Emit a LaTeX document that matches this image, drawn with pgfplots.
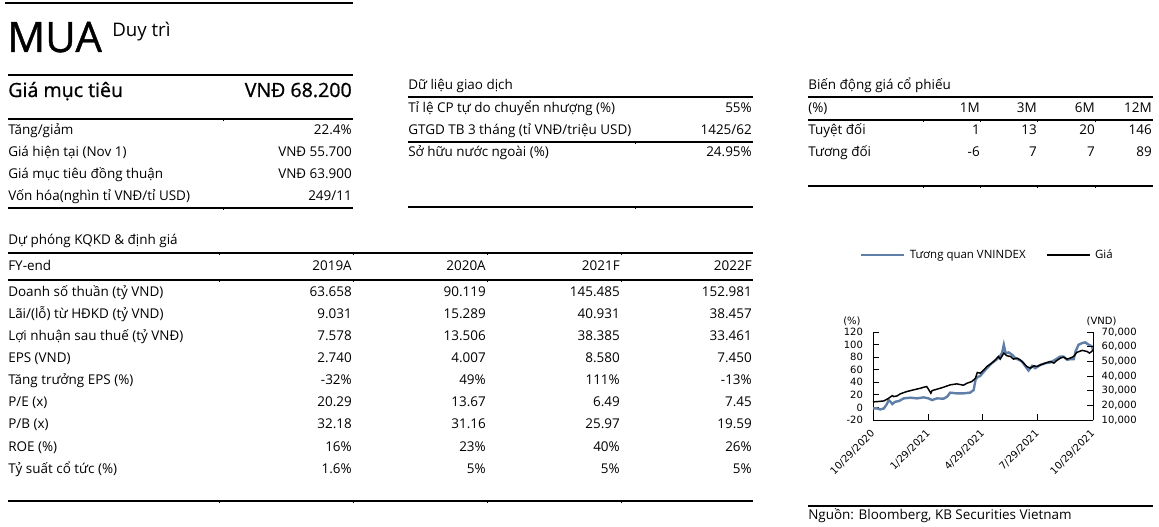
\documentclass[border=0pt]{standalone}
\usepackage{pgfplots}
\pgfplotsset{compat=1.18}
\usepackage{fontspec}
\setmainfont{Open Sans}
\newfontfamily\semib{Open Sans}[FakeBold=0.9]
\newfontfamily\dejavu{DejaVu Sans}
\definecolor{vnblue}{RGB}{95,127,168}
\newcommand\rf{\fontsize{10.1}{12}\selectfont}
\begin{document}
\begin{tikzpicture}
\begin{scope}[x=0.75pt,y=-0.75pt]
\useasboundingbox (0,0) rectangle (1159,527);
\fill[white] (0,0) rectangle (1159,527);
\begin{scope}[line width=0.9pt]
\draw (5,3)--(353,3);
\draw (8,75)--(353,75);
\draw (8,119)--(353,119); \draw[line width=0.5pt] (223,119)--(223,121);
\draw (8,208)--(353,208); \draw[line width=0.5pt] (223,208)--(223,210);
\draw (408,97)--(753,97);
\draw (408,142)--(753,142); \draw[line width=0.5pt] (635,142)--(635,144);
\draw (408,207)--(753,207); \draw[line width=0.5pt] (635,207)--(635,209);
\draw (808,97)--(1153,97);
\draw (808,120)--(1153,120);
\draw (808,186)--(1153,186);
\foreach \t in {923,980,1037,1095} {\draw[line width=0.5pt] (\t,120)--(\t,122); \draw[line width=0.5pt] (\t,186)--(\t,188);}
\draw (8,253)--(753,253);
\draw (8,280)--(753,280);
\draw (8,501)--(753,501);
\foreach \t in {219,353,487,621} {\draw[line width=0.5pt] (\t,253)--(\t,255); \draw[line width=0.5pt] (\t,280)--(\t,282); \draw[line width=0.5pt] (\t,501)--(\t,503);}
\draw (808,506)--(1153,506);
\end{scope}
\tikzset{L/.style={anchor=base west,inner sep=0pt,font=\rf},
         R/.style={anchor=base east,inner sep=0pt,font=\rf}}
\newcommand\row[6]{\node[L] at (8,#1) {#2}; \node[R] at (352,#1) {#3}; \node[R] at (486,#1) {#4}; \node[R] at (620,#1) {#5}; \node[R] at (752,#1) {#6};}
% title
\node[anchor=base west,inner sep=0pt,font=\semib\fontsize{31.5}{32}\selectfont] at (7,52) {MUA};
\node[anchor=base west,inner sep=0pt,font=\fontsize{14}{14}\selectfont] at (112,37) {Duy trì};
\node[anchor=base west,inner sep=0pt,font=\semib\fontsize{14.7}{15}\selectfont] at (8,97) {Giá mục tiêu};
\node[anchor=base east,inner sep=0pt,font=\semib\fontsize{14.7}{15}\selectfont] at (352,97) {VNĐ 68.200};
\node[L] at (8,135) {Tăng/giảm}; \node[R] at (352,135) {22.4\%};
\node[L] at (8,157) {Giá hiện tại (Nov 1)}; \node[R] at (352,157) {VNĐ 55.700};
\node[L] at (8,179) {Giá mục tiêu đồng thuận}; \node[R] at (352,179) {VNĐ 63.900};
\node[L] at (8,201) {Vốn hóa(nghìn tỉ VNĐ/tỉ USD)}; \node[R] at (352,201) {249/11};
% trading data
\node[L] at (408,90) {Dữ liệu giao dịch};
\node[L] at (408,113) {Tỉ lệ CP tự do chuyển nhượng (\%)}; \node[R] at (752,113) {55\%};
\node[L] at (408,135) {GTGD TB 3 tháng (tỉ VNĐ/triệu USD)}; \node[R] at (752,135) {1425/62};
\node[L] at (408,157) {Sở hữu nước ngoài (\%)}; \node[R] at (752,157) {24.95\%};
% price performance
\node[L] at (808,90) {Biến động giá cổ phiếu};
\node[L] at (808,113) {(\%)};
\node[R] at (980,113) {1M}; \node[R] at (1037,113) {3M}; \node[R] at (1095,113) {6M}; \node[R] at (1152,113) {12M};
\node[L] at (808,135) {Tuyệt đối};
\node[R] at (980,135) {1}; \node[R] at (1037,135) {13}; \node[R] at (1095,135) {20}; \node[R] at (1152,135) {146};
\node[L] at (808,157) {Tương đối};
\node[R] at (980,157) {-6}; \node[R] at (1037,157) {7}; \node[R] at (1095,157) {7}; \node[R] at (1152,157) {89};
% forecast table
\node[L] at (8,244) {Dự phóng KQKD \& định giá};
\row{270}{FY-end}{2019A}{2020A}{2021F}{2022F}
\row{296}{Doanh số thuần (tỷ VND)}{63.658}{90.119}{145.485}{152.981}
\row{318}{Lãi/(lỗ) từ HĐKD (tỷ VND)}{9.031}{15.289}{40.931}{38.457}
\row{340}{Lợi nhuận sau thuế (tỷ VNĐ)}{7.578}{13.506}{38.385}{33.461}
\row{362}{EPS (VND)}{2.740}{4.007}{8.580}{7.450}
\row{384}{Tăng trưởng EPS (\%)}{-32\%}{49\%}{111\%}{-13\%}
\row{406}{P/E (x)}{20.29}{13.67}{6.49}{7.45}
\row{428}{P/B (x)}{32.18}{31.16}{25.97}{19.59}
\row{451}{ROE (\%)}{16\%}{23\%}{40\%}{26\%}
\row{473}{Tỷ suất cổ tức (\%)}{1.6\%}{5\%}{5\%}{5\%}
\node[L] at (808,519) {Nguồn: Bloomberg, KB Securities Vietnam};
\end{scope}
% chart
\begin{axis}[
  at={(654.75pt,-315pt)}, anchor=south west,
  scale only axis, width=165pt, height=66pt,
  xmin=0, xmax=365, ymin=-20, ymax=120,
  axis y line*=left, axis x line*=bottom,
  axis line style={line width=0.7pt},
  tick align=inside, major tick length=4.5pt,
  tick style={line width=0.7pt, black},
  ytick={-20,0,20,40,60,80,100,120},
  xtick={0,92,182,273,365},
  xticklabels={10/29/2020,1/29/2021,4/29/2021,7/29/2021,10/29/2021},
  /pgf/number format/assume math mode=true,
  ticklabel style={font=\dejavu\fontsize{7.5}{8}\selectfont},
  yticklabel style={xshift=-4pt},
  xticklabel style={rotate=45, anchor=east, inner sep=0pt},
  xticklabel shift=9pt,
  legend columns=2,
  legend style={draw=none, fill=none, at={(0.52,1.875)}, anchor=center,
    font=\fontsize{8.6}{9}\selectfont, column sep=0pt,
    nodes={inner sep=1.5pt},
    /tikz/every odd column/.append style={column sep=2pt},
    /tikz/every even column/.append style={column sep=14pt}},
  legend image code/.code={\draw[#1] (0pt,0pt) -- (32pt,0pt);},
  clip=false,
]
\addplot[vnblue, line width=1.8pt] table {
0 -1.6
7 -1.6
12 -3.2
18 -1.6
23 5.3
26 11.7
29 9.1
32 5.3
37 9.1
43 10.1
51 14.4
62 15.5
73 14.4
84 16.0
92 14.4
98 11.7
106 14.4
117 13.9
123 17.1
128 23.5
139 22.4
150 22.4
161 23.5
167 27.7
170 43.7
173 48.0
178 50.1
184 57.1
189 62.4
197 70.4
206 76.8
211 82.1
214 86.4
217 99.7
220 86.4
225 87.5
231 83.7
236 78.4
242 75.7
247 73.1
253 65.1
258 58.7
264 66.1
269 62.4
278 67.7
286 70.4
294 71.5
302 75.7
311 81.1
316 81.1
322 75.7
327 76.8
333 76.8
336 89.1
341 99.7
347 102.4
352 103.5
358 99.7
363 97.1
365 91.7
};
\addlegendentry{Tương quan VNINDEX}
\addlegendimage{black, line width=1.1pt}
\addlegendentry{Giá}
\node[font=\dejavu\fontsize{7.5}{8}\selectfont, anchor=base east, inner sep=0pt] at (rel axis cs:-0.055,1.08) {(\%)};
\node[font=\dejavu\fontsize{7.5}{8}\selectfont, anchor=base west, inner sep=0pt] at (rel axis cs:0.97,1.08) {(VND)};
\end{axis}
\begin{axis}[
  at={(654.75pt,-315pt)}, anchor=south west,
  scale only axis, width=165pt, height=66pt,
  xmin=0, xmax=365, ymin=10000, ymax=70000,
  axis y line*=right, axis x line=none,
  axis line style={line width=0.7pt},
  tick align=inside, major tick length=4.5pt,
  tick style={line width=0.7pt, black},
  ytick={10000,20000,30000,40000,50000,60000,70000},
  scaled y ticks=false,
  /pgf/number format/fixed,
  /pgf/number format/1000 sep={,},
  /pgf/number format/assume math mode=true,
  ticklabel style={font=\dejavu\fontsize{7.5}{8}\selectfont},
  yticklabel style={xshift=3pt},
  clip=false,
]
\addplot[black, line width=1.1pt] table {
0 22320
7 22550
18 23000
26 24830
32 26650
34 25970
40 26420
45 27800
56 29390
67 30530
79 31670
84 32350
89 32810
92 30990
96 28250
98 30070
106 30990
117 32350
128 33950
139 34640
150 33720
156 35090
164 36230
170 38510
173 42390
178 41930
184 44220
189 46500
197 48780
203 51060
208 53340
211 51520
217 55620
222 53800
228 53340
233 51520
239 52200
244 51060
250 48780
255 46500
261 45360
267 46950
272 46500
278 47640
283 48320
289 49230
294 49920
300 48780
305 50600
311 52200
316 52880
322 51520
327 52200
333 53340
338 56080
347 57450
355 56760
359 55620
363 56760
365 57900
};
\end{axis}
\end{tikzpicture}
\end{document}
